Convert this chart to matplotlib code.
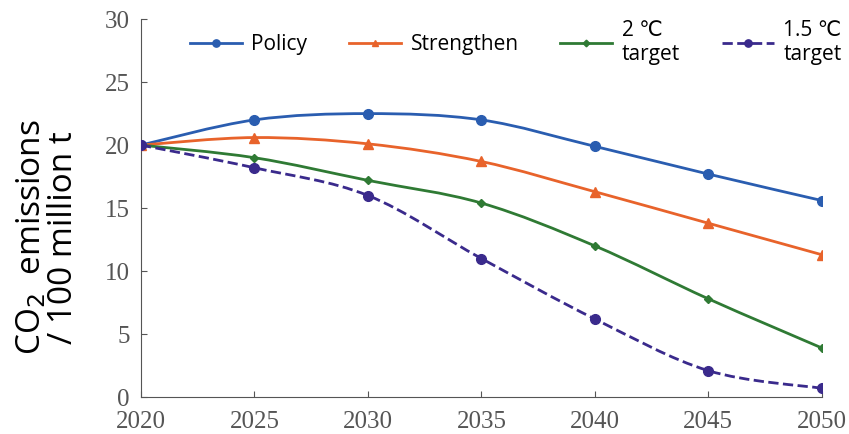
import numpy as np
import matplotlib
matplotlib.use("Agg")
import matplotlib.pyplot as plt
from matplotlib.path import Path
from matplotlib.patches import PathPatch
from matplotlib.lines import Line2D

years = [2020, 2025, 2030, 2035, 2040, 2045, 2050]
policy = [20.0, 22.0, 22.5, 22.0, 19.9, 17.7, 15.6]
strengthen = [20.0, 20.6, 20.1, 18.7, 16.3, 13.8, 11.3]
target_2c = [20.0, 19.0, 17.2, 15.4, 12.0, 7.8, 3.9]
target_15c = [20.0, 18.2, 16.0, 11.0, 6.2, 2.1, 0.7]

labels = ["Policy", "Strengthen", "2 \u2103\ntarget", "1.5 \u2103\ntarget"]
colors = ["#2a5db0", "#e8632b", "#2f7a34", "#3a2a8c"]
markers = ["o", "^", "D", "o"]
msizes = [7, 6.5, 4.5, 7]
styles = ["-", "-", "-", "--"]
series = [policy, strengthen, target_2c, target_15c]


def smooth_path(x, y, k=1 / 6):
    # Catmull-Rom style bezier through the points
    x = np.asarray(x, float)
    y = np.asarray(y, float)
    verts = [(x[0], y[0])]
    codes = [Path.MOVETO]
    n = len(x)
    for i in range(n - 1):
        i0 = max(i - 1, 0)
        i3 = min(i + 2, n - 1)
        c1 = (x[i] + (x[i + 1] - x[i0]) * k, y[i] + (y[i + 1] - y[i0]) * k)
        c2 = (x[i + 1] - (x[i3] - x[i]) * k, y[i + 1] - (y[i3] - y[i]) * k)
        verts += [c1, c2, (x[i + 1], y[i + 1])]
        codes += [Path.CURVE4] * 3
    return Path(verts, codes)


fig = plt.figure(figsize=(8.49, 4.34), dpi=100)
ax = fig.add_axes([0.166, 0.085, 0.802, 0.871])

handles = []
for vals, c, m, ms, ls in zip(series, colors, markers, msizes, styles):
    patch = PathPatch(smooth_path(years, vals), fill=False, edgecolor=c,
                      lw=2.0, linestyle=ls, zorder=2)
    ax.add_patch(patch)
    ax.plot(years, vals, linestyle="none", marker=m, color=c, ms=ms, zorder=3)
    handles.append(Line2D([], [], color=c, lw=2.0, linestyle=ls, marker=m,
                          ms=ms * 0.75))

ax.set_xlim(2020, 2050)
ax.set_ylim(0, 30)
ax.set_xticks(years)
ax.set_yticks(range(0, 31, 5))
for s in ["top", "right"]:
    ax.spines[s].set_visible(False)
for s in ["left", "bottom"]:
    ax.spines[s].set_color("#555555")
ax.tick_params(direction="in", length=4, color="#555555", labelcolor="#555555",
               labelsize=18)
ax.tick_params(axis="x", pad=10)
ax.tick_params(axis="y", pad=8)
for t in ax.get_xticklabels() + ax.get_yticklabels():
    t.set_family("Liberation Serif")

ax.set_ylabel("CO$_2$  emissions\n/ 100 million t", fontsize=24,
              family="Open Sans", linespacing=0.95)
ax.yaxis.set_label_coords(-0.09, 0.423)

ax.legend(handles, labels, loc="center left", bbox_to_anchor=(0.072, 0.939),
          ncol=4, frameon=False, borderpad=0, borderaxespad=0,
          prop={"family": ["Open Sans", "DejaVu Sans"], "size": 15},
          handlelength=2.5, columnspacing=2.0, handletextpad=0.45,
          labelspacing=0.05)

fig.savefig("out.png", dpi=100, facecolor="white")
